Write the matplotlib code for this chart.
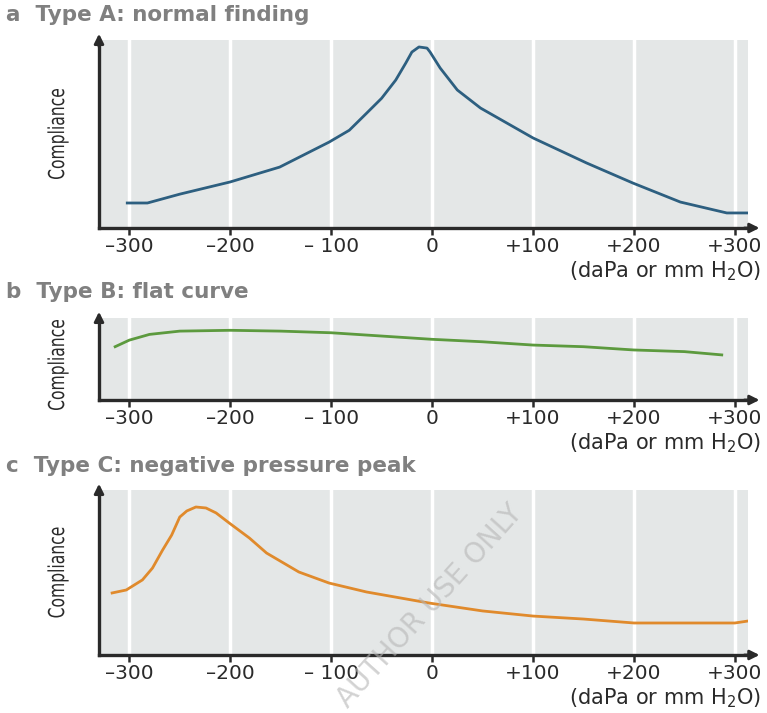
import numpy as np
import matplotlib.pyplot as plt
from matplotlib.textpath import TextPath
from matplotlib.patches import PathPatch
from matplotlib.font_manager import FontProperties
from matplotlib.transforms import Affine2D, IdentityTransform

# pressure (daPa) and relative compliance
xA = [-302, -282, -250, -200, -151, -102, -82, -65, -50, -36, -26, -20, -13, -5, -2, 8, 25, 48, 100, 153, 199, 246, 292, 313]
yA = [0.133, 0.133, 0.18, 0.245, 0.324, 0.457, 0.52, 0.61, 0.69, 0.787, 0.878, 0.936, 0.963, 0.957, 0.936, 0.851, 0.734, 0.638, 0.479, 0.346, 0.239, 0.138, 0.080, 0.080]

xB = [-314, -300, -280, -250, -200, -150, -100, -50, 0, 50, 100, 150, 200, 250, 287]
yB = [0.65, 0.73, 0.80, 0.84, 0.85, 0.84, 0.82, 0.78, 0.74, 0.71, 0.67, 0.65, 0.61, 0.59, 0.55]

xC = [-317, -303, -287, -277, -267, -258, -250, -243, -234, -224, -214, -201, -181, -164, -132, -102, -65, -3, 50, 100, 150, 200, 265, 300, 313]
yC = [0.376, 0.394, 0.455, 0.527, 0.636, 0.727, 0.836, 0.873, 0.897, 0.891, 0.861, 0.80, 0.709, 0.618, 0.503, 0.436, 0.382, 0.315, 0.267, 0.236, 0.218, 0.194, 0.194, 0.194, 0.206]

ticks = [-300, -200, -100, 0, 100, 200, 300]
tick_labels = ['–300', '–200', '– 100', '0', '+100', '+200', '+300']
titles = ['a  Type A: normal finding', 'b  Type B: flat curve', 'c  Type C: negative pressure peak']

plt.rcParams['font.family'] = ['DejaVu Sans']

fig = plt.figure(figsize=(7.67, 7.13), dpi=100)
W, H = 767, 713
bg = '#e4e7e7'
dark = '#2a2a2a'

# gray area top/bottom in pixels, title y, curve, colour
panels = [
    (40, 228, 15, xA, yA, '#2d5f80'),
    (318, 400, 292, xB, yB, '#5c9a3e'),
    (490, 655, 466, xC, yC, '#e08a2c'),
]


def condensed_label(text, cx, cy, length):
    # narrow vertical label, squeezed along the text direction
    tp = TextPath((0, 0), text, size=22, prop=FontProperties(family='DejaVu Sans'))
    bb = tp.get_extents()
    tr = (Affine2D().translate(-bb.x0 - bb.width / 2, -bb.y0 - bb.height / 2)
          .scale(length / bb.width, 1).rotate_deg(90).translate(cx, H - cy))
    fig.add_artist(PathPatch(tr.transform_path(tp), facecolor=dark, lw=0,
                             transform=IdentityTransform()))


for (top, bot, ty, xs, ys, col), title in zip(panels, titles):
    ax = fig.add_axes([99 / W, 1 - bot / H, 649 / W, (bot - top) / H])
    ax.set_facecolor(bg)
    ax.set_xlim(-330, 313)
    ax.set_ylim(0, 1)
    for t in ticks:
        ax.axvline(t, color='white', lw=2.5, zorder=1)
    ax.plot(xs, ys, color=col, lw=2, zorder=3)
    for s in ['top', 'right']:
        ax.spines[s].set_visible(False)
    for s in ['left', 'bottom']:
        ax.spines[s].set_color(dark)
        ax.spines[s].set_linewidth(2.4)
    ax.set_xticks(ticks)
    ax.set_xticklabels(tick_labels, fontsize=14.5, color=dark)
    ax.tick_params(axis='x', length=5, width=1.8, color=dark, pad=1.5)
    ax.set_yticks([])
    ax.annotate('', xy=(1.022, 0), xytext=(0.99, 0), xycoords='axes fraction',
                arrowprops=dict(arrowstyle='-|>', color=dark, lw=2, mutation_scale=14),
                annotation_clip=False)
    ax.annotate('', xy=(0, 1 + 9 / (bot - top)), xytext=(0, 0.95), xycoords='axes fraction',
                arrowprops=dict(arrowstyle='-|>', color=dark, lw=2, mutation_scale=14),
                annotation_clip=False)
    condensed_label('Compliance', 58, (top + bot) / 2 + (6 if bot - top < 100 else 0), 90)
    fig.text(761 / W, 1 - (bot + 43) / H, '(daPa or mm H$_2$O)', ha='right',
             va='center', fontsize=15, color=dark)
    fig.text(6 / W, 1 - ty / H, title, ha='left', va='center', fontsize=15.5,
             fontweight='bold', color='#808080')

fig.text(430 / W, 1 - 606 / H, 'AUTHOR USE ONLY', rotation=48, ha='center',
         va='center', fontsize=20, color='#b5b5b5', alpha=0.6)

fig.savefig('out.png', dpi=100)
